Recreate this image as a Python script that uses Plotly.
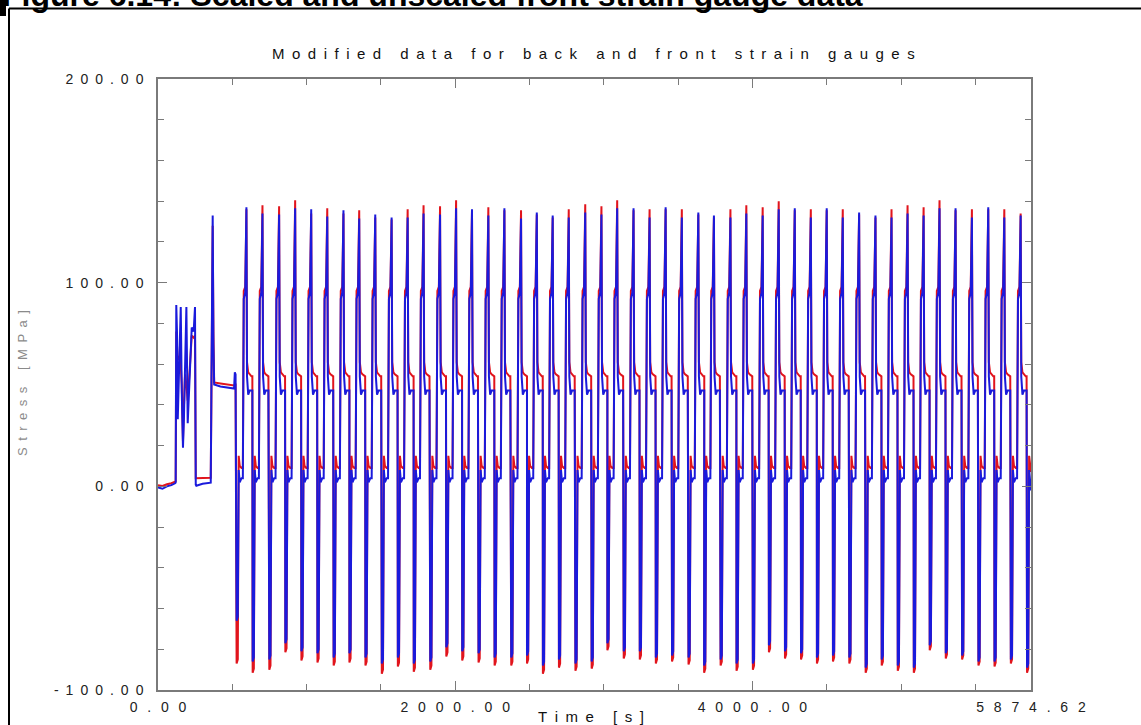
import plotly.graph_objects as go

W, H = 1141, 725

# ---- start-up record before the cyclic block (time [s], stress [MPa])
startup_time_s = [0, 30, 60, 90, 115, 119, 123, 128, 133, 141, 153, 160, 168, 175, 182,
                  191, 200, 214, 227, 240, 249, 254, 258, 300, 355, 359, 363, 368, 373, 378,
                  420, 470, 512, 517, 522]
startup_back = [0.6, 0.2, 1.0, 1.5, 2.3, 2.5, 76, 70, 62, 64, 60, 50, 22, 40, 55,
                50, 42, 58, 74, 73, 74, 4, 4, 4, 4.2, 40, 105, 128, 75, 51,
                50.5, 50, 49.5, 50, 50]
startup_front = [-0.5, -1.2, 0, 0.6, 1.5, 1.8, 89, 75, 33, 62, 88, 46, 19, 35, 54,
                 88, 31, 52, 78, 76, 88, 0.8, 0.3, 1.3, 1.8, 45, 118, 133, 70, 50,
                 49, 48.5, 48, 56, 55]

# ---- cyclic block: time of each load peak [s]
peak_time_s = [595, 703, 815, 923, 1031, 1139, 1248, 1354, 1462, 1572,
               1680, 1787, 1898, 2006, 2113, 2223, 2331, 2443, 2549, 2656,
               2764, 2875, 2984, 3090, 3200, 3308, 3416, 3525, 3636, 3741,
               3852, 3959, 4069, 4177, 4285, 4393, 4500, 4608, 4718, 4828,
               4936, 5044, 5152, 5259, 5367, 5477, 5587, 5695, 5805]

# peak stress of each cycle [MPa]
back_peak = [136, 138, 137.5, 140.5, 134, 136.5, 134, 135.5, 132, 131,
             136, 138, 137.5, 140.5, 135, 137, 135.5, 135.5, 133.5, 132,
             136, 138.5, 137.5, 140.5, 135.5, 136, 136, 136, 133.5, 132,
             136, 138, 137, 140, 135.5, 136, 135.5, 136, 133.5, 132,
             136, 138, 137, 140.5, 135.5, 136, 136, 136, 134]
front_peak = [137, 134, 133.5, 136.5, 136, 132.5, 135.5, 131.5, 133.5, 132,
              132, 134, 133.5, 136.5, 136, 133, 136.5, 131.5, 134.5, 133,
              132, 134.5, 133.5, 136.5, 136.5, 132, 137, 132, 134.5, 133,
              132, 134, 133, 136, 136.5, 132, 136.5, 132, 134.5, 133,
              132, 134, 133, 136.5, 136.5, 132, 137, 132, 133]

# compressive minimum reached before each peak [MPa]
back_trough = [-87, -91.5, -90, -81.5, -85.5, -86.5, -88, -86.5, -88, -92,
               -88.5, -91, -90, -83.5, -85.5, -86.5, -88, -88, -87, -92,
               -89, -90.5, -89.5, -80.5, -84.5, -85, -87, -86, -87.5, -91.5,
               -88, -90.5, -90, -81.5, -84.5, -85, -87, -86, -87, -91.5,
               -88, -90.5, -91.5, -80.5, -84.5, -85, -88, -88.5, -87]
front_trough = [-66, -86, -85, -77, -81, -82, -84, -82, -84, -87,
                -84, -87, -86, -79, -81, -82, -84, -84, -83, -88,
                -85, -87, -86, -77, -81, -81, -84, -83, -84, -88,
                -85, -87, -87, -78, -81, -82, -84, -83, -84, -89,
                -85, -88, -89, -78, -82, -83, -86, -86, -85]

# shape of one load cycle, times relative to its peak [s]
cycle_offset_s = [-66, -58, -52, -45, -33, -24, -18, -8, 0, 4, 12, 22, 34, 40]
trough_rebound = 2
back_low, front_low = [15, 10, 9, 9], [8, 2, 4, 4]
back_rise, front_rise = [96, 98], [92, 95]
back_high, front_high = [61, 56, 55, 54, 54], [54, 45, 47, 47, 47]

# last unloading at the end of the record
tail_time_s = [5848, 5856, 5862, 5874.62]
back_tail = [-91.5, -89.5, 15, 7]
front_tail = [-89, -87, 8, -2]

X_MAX = 5874.62
x_tick_vals = [0, 2000, 4000, 5874.62]
x_tick_text = ["0.00", "2000.00", "4000.00", "5874.62"]
y_tick_vals = [-100, 0, 100, 200]
y_tick_text = ["-100.00", "0.00", "100.00", "200.00"]


def build(t0, v0, peaks, troughs, low, rise, high, tail):
    t, v = list(t0), list(v0)
    for p_t, pk, tr in zip(peak_time_s, peaks, troughs):
        t += [p_t + o for o in cycle_offset_s]
        v += [tr, tr + trough_rebound] + low + rise + [pk] + high
    t += tail_time_s
    v += tail
    return t, v


back_t, back_v = build(startup_time_s, startup_back, back_peak, back_trough,
                       back_low, back_rise, back_high, back_tail)
front_t, front_v = build(startup_time_s, startup_front, front_peak, front_trough,
                         front_low, front_rise, front_high, front_tail)


def spaced(s, gap="\u2002"):
    return gap.join(s)


FONT = "Liberation Sans, Arial, Helvetica, sans-serif"
AX = "#7a7a7a"

fig = go.Figure()
fig.add_trace(go.Scatter(x=back_t, y=back_v, mode="lines", name="back gauge",
                         line=dict(color="rgb(225,20,28)", width=2.0)))
fig.add_trace(go.Scatter(x=front_t, y=front_v, mode="lines", name="front gauge",
                         line=dict(color="rgb(26,26,220)", width=2.0)))

x0, x1 = 158 / W, 1031 / W
y0, y1 = 1 - 690 / H, 1 - 79 / H

fig.update_layout(
    width=W, height=H,
    margin=dict(l=0, r=0, t=0, b=0, pad=0, autoexpand=False),
    paper_bgcolor="white", plot_bgcolor="white",
    showlegend=False,
    xaxis=dict(domain=[x0, x1], range=[0, X_MAX], showgrid=False, zeroline=False,
               automargin=False,
               showline=True, linecolor=AX, linewidth=1.5, mirror="ticks",
               ticks="inside", ticklen=9, tickcolor=AX, tickwidth=1,
               tickvals=x_tick_vals, ticktext=[spaced(s, "\u2002\u2009") for s in x_tick_text],
               tickfont=dict(family=FONT, size=14, color="#222"),
               ticklabelstandoff=3,
               minor=dict(ticks="inside", ticklen=6, dtick=500, tick0=0,
                          tickcolor=AX, showgrid=False)),
    yaxis=dict(domain=[y0, y1], range=[-100, 200], showgrid=False, zeroline=False,
               automargin=False,
               showline=True, linecolor=AX, linewidth=1.5, mirror="ticks",
               ticks="inside", ticklen=9, tickcolor=AX, tickwidth=1,
               tickvals=y_tick_vals, ticktext=[spaced(s) for s in y_tick_text],
               tickfont=dict(family=FONT, size=14, color="#222"),
               ticklabelstandoff=10,
               minor=dict(ticks="inside", ticklen=6, dtick=20, tick0=0,
                          tickcolor=AX, showgrid=False)),
)

annotations = [
    # chart title
    dict(text=spaced("Modified data for back and front strain gauges"),
         x=593 / W, y=1 - 53 / H, xanchor="center", yanchor="middle",
         font=dict(family=FONT, size=15, color="#111")),
    # axis titles
    dict(text=spaced("Time [s]"), x=591 / W, y=1 - 716 / H,
         xanchor="center", yanchor="middle",
         font=dict(family=FONT, size=15, color="#111")),
    dict(text=spaced("Stress [MPa]"), x=22 / W, y=1 - 383 / H, textangle=-90,
         xanchor="center", yanchor="middle",
         font=dict(family=FONT, size=13, color="#8a8a8a")),
    # document caption above the frame
    dict(text="<b>Figure 6.14: Scaled and unscaled front strain gauge data</b>",
         x=0, y=1 - 15 / H, xanchor="left", yanchor="bottom",
         font=dict(family=FONT, size=32, color="black")),
]
for a in annotations:
    a.update(xref="paper", yref="paper", showarrow=False)
fig.update_layout(annotations=annotations)

# frame around the figure
fig.add_shape(type="line", xref="paper", yref="paper", x0=9 / W, x1=1, y0=1 - 8.5 / H,
              y1=1 - 8.5 / H, line=dict(color="black", width=2), layer="above")
fig.add_shape(type="line", xref="paper", yref="paper", x0=9 / W, x1=9 / W, y0=0,
              y1=1 - 8.5 / H, line=dict(color="black", width=2), layer="above")
fig.add_shape(type="rect", xref="paper", yref="paper", x0=0, x1=6 / W, y0=1 - 16 / H,
              y1=1, line=dict(width=0), fillcolor="black", layer="above")

fig.write_html("out.html")
